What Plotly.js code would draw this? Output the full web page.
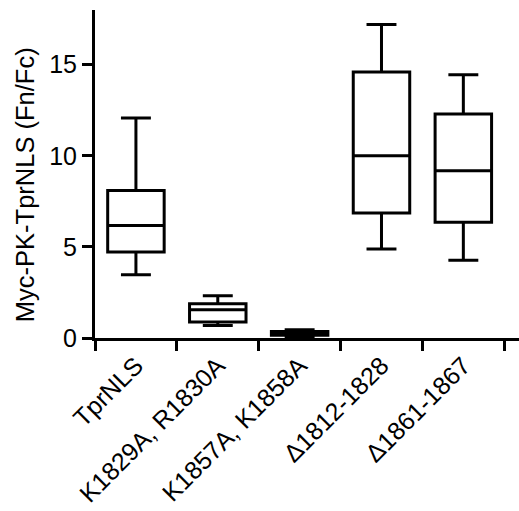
<!DOCTYPE html>
<html>
<head>
<meta charset="utf-8">
<script src="https://cdn.plot.ly/plotly-3.0.1.min.js"></script>
<style>html,body{margin:0;padding:0;background:#fff;}#chart{width:519px;height:511px;}</style>
</head>
<body>
<div id="chart"></div>
<script>
const categories = ["TprNLS", "K1829A, R1830A", "K1857A, K1858A", "Δ1812-1828", "Δ1861-1867"];
const minValues = [3.47, 0.69, 0.08, 4.88, 4.26];
const q1Values = [4.72, 0.88, 0.15, 6.86, 6.35];
const medianValues = [6.18, 1.55, 0.25, 10.0, 9.18];
const q3Values = [8.10, 1.88, 0.35, 14.6, 12.29];
const maxValues = [12.07, 2.32, 0.45, 17.2, 14.45];
const yTickVals = [0, 5, 10, 15];
const yTitle = "Myc-PK-TprNLS (Fn/Fc)";

const font = "Arial, 'Liberation Sans', sans-serif";
const trace = {
  type: "box",
  x: categories,
  lowerfence: minValues,
  q1: q1Values,
  median: medianValues,
  q3: q3Values,
  upperfence: maxValues,
  boxpoints: false,
  width: 0.69,
  whiskerwidth: 0.53,
  fillcolor: "#ffffff",
  line: {color: "#000000", width: 3},
  hoverinfo: "skip",
  showlegend: false
};
const layout = {
  width: 519, height: 511,
  margin: {l: 95, r: 0, t: 10, b: 173},
  paper_bgcolor: "#ffffff", plot_bgcolor: "#ffffff",
  font: {family: font, color: "#000000"},
  xaxis: {
    type: "category",
    categoryorder: "array", categoryarray: categories,
    range: [-0.5, 4.68],
    showline: true, linecolor: "#000", linewidth: 3,
    ticks: "outside", tickson: "boundaries", ticklen: 10, tickwidth: 3, tickcolor: "#000",
    tickangle: -45,
    tickfont: {size: 25, family: font, color: "#000"},
    showgrid: false, zeroline: false, fixedrange: true
  },
  yaxis: {
    range: [0, 18],
    tickvals: yTickVals,
    showline: true, linecolor: "#000", linewidth: 3,
    ticks: "outside", ticklen: 10, tickwidth: 3, tickcolor: "#000",
    tickfont: {size: 25, family: font, color: "#000"},
    showgrid: false, zeroline: false, fixedrange: true
  },
  annotations: [{
    text: yTitle, textangle: -90,
    xref: "paper", yref: "paper", x: -0.165, y: 0.466,
    xanchor: "center", yanchor: "middle", showarrow: false,
    font: {size: 25.5, family: font, color: "#000"}
  }]
};
Plotly.newPlot("chart", [trace], layout, {displayModeBar: false, staticPlot: true});
</script>
</body>
</html>
